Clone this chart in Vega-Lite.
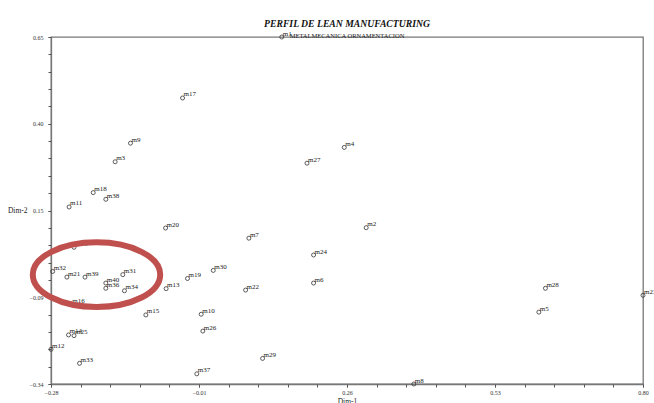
{
  "$schema": "https://vega.github.io/schema/vega-lite/v6.json",
  "width": 592,
  "height": 347,
  "autosize": {"type": "none"},
  "padding": {"left": 51, "top": 37, "right": 11, "bottom": 19},
  "background": "white",
  "title": {
    "text": "PERFIL DE LEAN MANUFACTURING",
    "subtitle": "METALMECANICA ORNAMENTACION",
    "font": "Liberation Serif",
    "fontStyle": "italic",
    "fontWeight": "bold",
    "fontSize": 9.7,
    "color": "#111",
    "subtitleFont": "Liberation Serif",
    "subtitleFontSize": 6.5,
    "subtitleColor": "#222",
    "subtitlePadding": 4,
    "anchor": "middle",
    "offset": -10
  },
  "config": {
    "view": {"stroke": "#777", "strokeWidth": 1.3},
    "axis": {
      "grid": false,
      "domainColor": "#777",
      "domainWidth": 1.3,
      "tickColor": "#555",
      "tickSize": 3,
      "labelFont": "Liberation Serif",
      "labelFontSize": 6,
      "labelColor": "#333",
      "titleFont": "Liberation Serif",
      "titleFontSize": 7.5,
      "titleFontWeight": "normal",
      "titleColor": "#222"
    }
  },
  "resolve": {"axis": {"x": "independent", "y": "independent"}},
  "layer": [
    {
      "data": {
        "values": [
          {"id": "m1", "d1": 0.141, "d2": 0.65},
          {"id": "m17", "d1": -0.040, "d2": 0.476},
          {"id": "m9", "d1": -0.135, "d2": 0.347},
          {"id": "m3", "d1": -0.163, "d2": 0.294},
          {"id": "m27", "d1": 0.187, "d2": 0.290},
          {"id": "m4", "d1": 0.255, "d2": 0.335},
          {"id": "m18", "d1": -0.203, "d2": 0.206},
          {"id": "m38", "d1": -0.180, "d2": 0.187},
          {"id": "m11", "d1": -0.247, "d2": 0.165},
          {"id": "m20", "d1": -0.071, "d2": 0.105},
          {"id": "m2", "d1": 0.295, "d2": 0.106},
          {"id": "m7", "d1": 0.081, "d2": 0.076},
          {"id": "m24", "d1": 0.199, "d2": 0.028},
          {"id": "m35", "d1": -0.238, "d2": 0.050},
          {"id": "m32", "d1": -0.277, "d2": -0.019},
          {"id": "m21", "d1": -0.251, "d2": -0.035},
          {"id": "m39", "d1": -0.218, "d2": -0.035},
          {"id": "m31", "d1": -0.149, "d2": -0.028},
          {"id": "m40", "d1": -0.180, "d2": -0.052},
          {"id": "m36", "d1": -0.180, "d2": -0.067},
          {"id": "m34", "d1": -0.146, "d2": -0.074},
          {"id": "m13", "d1": -0.070, "d2": -0.068},
          {"id": "m19", "d1": -0.031, "d2": -0.039},
          {"id": "m30", "d1": 0.016, "d2": -0.016},
          {"id": "m22", "d1": 0.075, "d2": -0.072},
          {"id": "m6", "d1": 0.199, "d2": -0.052},
          {"id": "m16", "d1": -0.243, "d2": -0.112},
          {"id": "m15", "d1": -0.107, "d2": -0.143},
          {"id": "m10", "d1": -0.006, "d2": -0.141},
          {"id": "m26", "d1": -0.003, "d2": -0.189},
          {"id": "m14", "d1": -0.248, "d2": -0.200},
          {"id": "m25", "d1": -0.238, "d2": -0.202},
          {"id": "m12", "d1": -0.280, "d2": -0.241},
          {"id": "m33", "d1": -0.228, "d2": -0.281},
          {"id": "m37", "d1": -0.014, "d2": -0.311},
          {"id": "m29", "d1": 0.106, "d2": -0.267},
          {"id": "m28", "d1": 0.622, "d2": -0.067},
          {"id": "m5", "d1": 0.610, "d2": -0.135},
          {"id": "m23", "d1": 0.800, "d2": -0.087},
          {"id": "m8", "d1": 0.382, "d2": -0.340}
        ]
      },
      "encoding": {
        "x": {
          "field": "d1",
          "type": "quantitative",
          "scale": {"domain": [-0.28, 0.8], "nice": false, "zero": false},
          "axis": {
            "title": "Dim-1",
            "orient": "bottom",
            "values": [-0.28, -0.01, 0.26, 0.53, 0.8],
            "format": ".2f",
            "labelOverlap": false,
            "labelFlush": false,
            "labelPadding": 2,
            "titlePadding": 2
          }
        },
        "y": {
          "field": "d2",
          "type": "quantitative",
          "scale": {"domain": [-0.34, 0.65], "nice": false, "zero": false},
          "axis": {
            "title": "Dim-2",
            "orient": "left",
            "values": [-0.34, -0.0925, 0.155, 0.4025, 0.65],
            "format": ".2f",
            "labelOverlap": false,
            "labelFlush": false,
            "labelPadding": 5,
            "titleAngle": 0,
            "titleAlign": "right",
            "titleBaseline": "middle",
            "titleX": -24,
            "titleY": 173
          }
        }
      },
      "layer": [
        {
          "mark": {"type": "point", "filled": false, "stroke": "#333", "strokeWidth": 0.8, "size": 16, "opacity": 1}
        },
        {
          "mark": {"type": "text", "align": "left", "baseline": "alphabetic", "dx": 1, "dy": -1.5, "font": "Liberation Serif", "fontSize": 7, "color": "#222"},
          "encoding": {"text": {"field": "id"}}
        }
      ]
    },
    {
      "data": {"values": [{"cx": -0.197, "cy": -0.028}]},
      "mark": {
        "type": "point",
        "shape": "M-1,0A1,0.507,0,1,1,1,0A1,0.507,0,1,1,-1,0Z",
        "filled": false,
        "stroke": "#c0504d",
        "strokeWidth": 6,
        "size": 16231,
        "opacity": 1
      },
      "encoding": {
        "x": {
          "field": "cx",
          "type": "quantitative",
          "axis": {
            "orient": "bottom",
            "title": null,
            "labels": false,
            "domain": false,
            "values": [-0.28, -0.226, -0.172, -0.118, -0.064, -0.01, 0.044, 0.098, 0.152, 0.206, 0.26, 0.314, 0.368, 0.422, 0.476, 0.53, 0.584, 0.638, 0.692, 0.746, 0.8]
          }
        },
        "y": {
          "field": "cy",
          "type": "quantitative",
          "axis": {
            "orient": "left",
            "title": null,
            "labels": false,
            "domain": false,
            "values": [-0.34, -0.2905, -0.241, -0.1915, -0.142, -0.0925, -0.043, 0.0065, 0.056, 0.1055, 0.155, 0.2045, 0.254, 0.3035, 0.353, 0.4025, 0.452, 0.5015, 0.551, 0.6005, 0.65]
          }
        }
      }
    }
  ]
}
